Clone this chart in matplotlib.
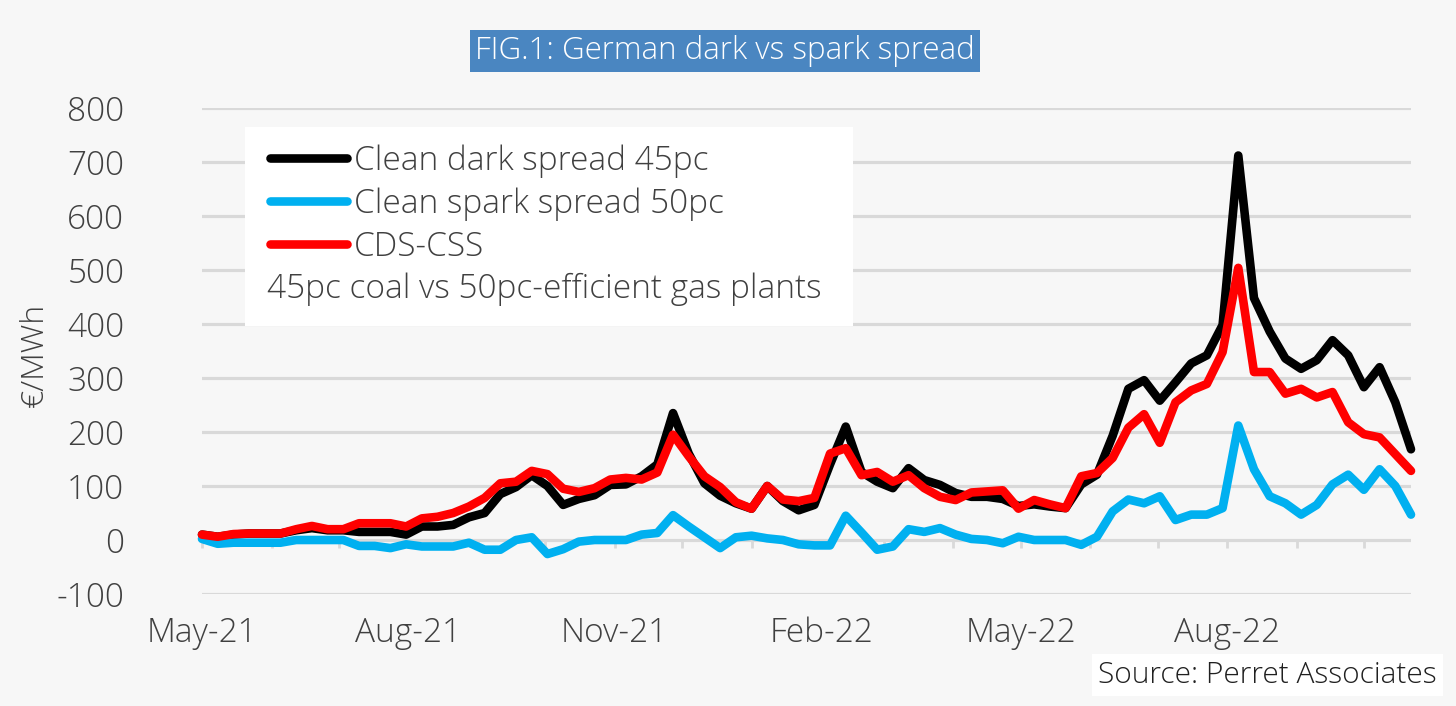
import datetime as dt
import matplotlib
matplotlib.use("Agg")
import matplotlib.pyplot as plt
import matplotlib.dates as mdates
from matplotlib.lines import Line2D
from matplotlib.patches import Rectangle

plt.rcParams['font.family'] = ['Open Sans', 'DejaVu Sans']
plt.rcParams['font.weight'] = 'light'
plt.rcParams['axes.unicode_minus'] = False

# weekly observations, May-21 to Oct-22
start = dt.date(2021, 5, 1)
n_weeks = 78
dates = [start + dt.timedelta(weeks=k) for k in range(n_weeks)]

dark = [10, 6, 10, 12, 12, 12, 18, 22, 18, 18,
        15, 15, 15, 10, 25, 25, 28, 42, 50, 85,
        98, 120, 100, 65, 76, 83, 102, 103, 118, 140,
        235, 160, 105, 82, 68, 58, 100, 72, 55, 65,
        140, 210, 126, 108, 96, 133, 111, 102, 87, 80,
        80, 76, 63, 66, 62, 59, 103, 121, 193, 280,
        296, 258, 292, 327, 342, 398, 712, 448, 386, 336,
        317, 333, 370, 342, 283, 320, 255, 168]
spark = [2, -7, -5, -5, -5, -5, 0, 0, 0, 0,
         -11, -11, -15, -8, -12, -12, -12, -5, -18, -18,
         0, 5, -26, -17, -3, 0, 0, 0, 10, 13,
         46, 25, 5, -15, 5, 8, 3, 0, -8, -10,
         -10, 45, 14, -18, -12, 20, 15, 22, 10, 2,
         0, -6, 6, 0, 0, 0, -9, 6, 53, 75,
         68, 81, 37, 47, 47, 59, 212, 131, 81, 68,
         47, 65, 103, 121, 93, 131, 100, 47]
cds_css = [10, 6, 11, 12, 12, 12, 20, 26, 20, 20,
           31, 31, 31, 25, 40, 43, 50, 62, 78, 105,
           108, 128, 122, 95, 89, 96, 112, 115, 112, 125,
           195, 155, 118, 98, 70, 58, 100, 75, 72, 78,
           160, 170, 120, 126, 108, 120, 96, 80, 74, 88,
           90, 92, 58, 74, 66, 59, 118, 124, 152, 208,
           233, 180, 255, 277, 289, 348, 504, 311, 311, 271,
           280, 264, 274, 218, 196, 190, 159, 128]

labels = ["Clean dark spread 45pc", "Clean spark spread 50pc", "CDS-CSS"]
colors = ["#000000", "#00b0f0", "#ff0000"]
y_ticks = list(range(-100, 801, 100))

bg = "#f7f7f7"
grid_c = "#d9d9d9"
text_c = "#404040"

fig = plt.figure(figsize=(14.56, 7.06), dpi=100, facecolor=bg)
ax = fig.add_axes([202 / 1456, 1 - 594 / 706, 1209 / 1456, 486 / 706])
ax.set_facecolor(bg)

for series, lab, col in zip([dark, spark, cds_css], labels, colors):
    ax.plot(dates, series, color=col, lw=6.2, label=lab, clip_on=False,
            solid_joinstyle='round', solid_capstyle='round', zorder=3)

ax.set_xlim(dates[0], dates[-1])
ax.set_ylim(-100, 800)
ax.set_yticks(y_ticks)
ax.yaxis.grid(True, color=grid_c, lw=2.3)
ax.set_axisbelow(True)
for s in ax.spines.values():
    s.set_visible(False)

ax.xaxis.set_major_locator(mdates.MonthLocator(bymonth=[2, 5, 8, 11]))
ax.xaxis.set_major_formatter(mdates.DateFormatter('%b-%y'))
ax.tick_params(axis='x', length=0, pad=16, labelsize=24, labelcolor=text_c)
ax.tick_params(axis='y', length=0, pad=56, labelsize=24, labelcolor=text_c)
for t in ax.get_yticklabels():
    t.set_horizontalalignment('right')

# small month ticks along the zero line
sec = ax.secondary_xaxis(100 / 900)
sec.xaxis.set_major_locator(mdates.MonthLocator())
sec.tick_params(axis='x', length=6, width=2, color=grid_c, labelbottom=False)
sec.spines['bottom'].set_visible(False)

# legend panel
fig.patches.append(Rectangle((245 / 1456, 1 - 326 / 706), 608 / 1456, 199 / 706,
                             transform=fig.transFigure, facecolor='white',
                             edgecolor='none', zorder=4))
handles = [Line2D([0], [0], color=c, lw=6.2, solid_capstyle='round') for c in colors]
leg = fig.legend(handles, labels, loc='upper left',
                 bbox_to_anchor=(270 / 1456, 1 - 144 / 706), frameon=False,
                 fontsize=24, handlelength=2.3, handletextpad=0.22,
                 labelspacing=0.29, borderaxespad=0, borderpad=0)
leg.set_zorder(5)
for t in leg.get_texts():
    t.set_color(text_c)
fig.text(267 / 1456, 1 - 289 / 706, "45pc coal vs 50pc-efficient gas plants",
         fontsize=24, color=text_c, va='center', ha='left', zorder=6)

fig.text(35 / 1456, 1 - 355 / 706, "€/MWh", rotation=90, fontsize=23,
         color=text_c, va='center', ha='center')

fig.text(725 / 1456, 1 - 51 / 706, "FIG.1: German dark vs spark spread",
         fontsize=22.5, color='white', va='center', ha='center',
         bbox=dict(boxstyle='square,pad=0.15', facecolor='#4a86c1', edgecolor='none'))

fig.text(1437 / 1456, 1 - 675 / 706, "Source: Perret Associates",
         fontsize=21.5, color='#202020', va='center', ha='right',
         bbox=dict(boxstyle='square,pad=0.2', facecolor='white', edgecolor='none'))

fig.savefig("out.png", dpi=100, facecolor=bg)
